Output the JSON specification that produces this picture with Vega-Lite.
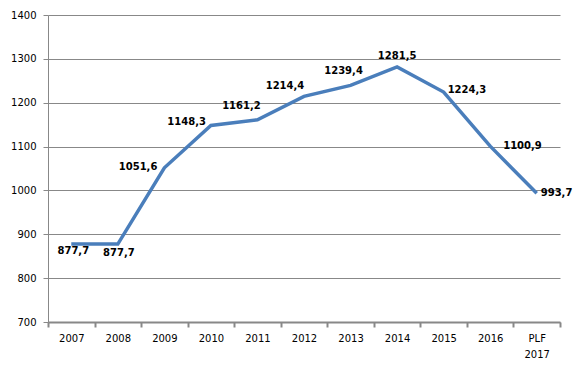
{
  "$schema": "https://vega.github.io/schema/vega-lite/v6.json",
  "autosize": "none",
  "width": 512,
  "height": 307,
  "padding": {"left": 48, "top": 15, "right": 15, "bottom": 49},
  "background": "white",
  "config": {
    "view": {"stroke": null},
    "font": "DejaVu Sans",
    "locale": {"number": {"decimal": ",", "thousands": "", "grouping": [3], "currency": ["", ""]}},
    "text": {"fontSize": 10, "fontWeight": "bold", "baseline": "middle", "color": "#000"}
  },
  "data": {
    "values": [
      {"year": "2007", "value": 877.7},
      {"year": "2008", "value": 877.7},
      {"year": "2009", "value": 1051.6},
      {"year": "2010", "value": 1148.3},
      {"year": "2011", "value": 1161.2},
      {"year": "2012", "value": 1214.4},
      {"year": "2013", "value": 1239.4},
      {"year": "2014", "value": 1281.5},
      {"year": "2015", "value": 1224.3},
      {"year": "2016", "value": 1100.9},
      {"year": "PLF 2017", "value": 993.7}
    ]
  },
  "encoding": {
    "x": {
      "field": "year", "type": "nominal", "sort": null,
      "scale": {"paddingInner": 0, "paddingOuter": 0},
      "axis": {
        "title": null, "labelAngle": 0, "labelFontSize": 10, "labelColor": "#000",
        "labelExpr": "split(datum.label, ' ')", "labelLineHeight": 16,
        "domainColor": "#888", "domainWidth": 2, "tickColor": "#888", "tickSize": 5, "tickWidth": 2,
        "tickBand": "extent", "labelPadding": 6, "grid": false
      }
    },
    "y": {
      "field": "value", "type": "quantitative",
      "scale": {"domain": [700, 1400], "nice": false},
      "axis": {
        "title": null, "values": [700, 800, 900, 1000, 1100, 1200, 1300, 1400], "format": "d",
        "labelFontSize": 10, "labelColor": "#000", "labelPadding": 7,
        "domainColor": "#888", "tickColor": "#888", "tickSize": 5,
        "grid": true, "gridColor": "#888", "gridWidth": 1
      }
    }
  },
  "layer": [
    {"mark": {"type": "line", "color": "#4A7EBB", "strokeWidth": 3.5}},
    {
      "transform": [{"filter": "datum.year == '2007'"}],
      "mark": {"type": "text", "dx": 2, "dy": 7},
      "encoding": {"text": {"field": "value", "type": "quantitative", "format": ".1f"}}
    },
    {
      "transform": [{"filter": "datum.year == '2008'"}],
      "mark": {"type": "text", "dx": 1, "dy": 9},
      "encoding": {"text": {"field": "value", "type": "quantitative", "format": ".1f"}}
    },
    {
      "transform": [{"filter": "datum.year == '2009'"}],
      "mark": {"type": "text", "align": "right", "dx": -7, "dy": -1},
      "encoding": {"text": {"field": "value", "type": "quantitative", "format": ".1f"}}
    },
    {
      "transform": [{"filter": "datum.year == '2010'"}],
      "mark": {"type": "text", "align": "right", "dx": -5, "dy": -3},
      "encoding": {"text": {"field": "value", "type": "quantitative", "format": ".1f"}}
    },
    {
      "transform": [{"filter": "datum.year == '2011'"}],
      "mark": {"type": "text", "dx": -16, "dy": -14},
      "encoding": {"text": {"field": "value", "type": "quantitative", "format": ".1f"}}
    },
    {
      "transform": [{"filter": "datum.year == '2012'"}],
      "mark": {"type": "text", "dx": -19, "dy": -10},
      "encoding": {"text": {"field": "value", "type": "quantitative", "format": ".1f"}}
    },
    {
      "transform": [{"filter": "datum.year == '2013'"}],
      "mark": {"type": "text", "dx": -7, "dy": -14},
      "encoding": {"text": {"field": "value", "type": "quantitative", "format": ".1f"}}
    },
    {
      "transform": [{"filter": "datum.year == '2014'"}],
      "mark": {"type": "text", "dx": 0, "dy": -11},
      "encoding": {"text": {"field": "value", "type": "quantitative", "format": ".1f"}}
    },
    {
      "transform": [{"filter": "datum.year == '2015'"}],
      "mark": {"type": "text", "align": "left", "dx": 4, "dy": -2},
      "encoding": {"text": {"field": "value", "type": "quantitative", "format": ".1f"}}
    },
    {
      "transform": [{"filter": "datum.year == '2016'"}],
      "mark": {"type": "text", "align": "left", "dx": 13, "dy": 0},
      "encoding": {"text": {"field": "value", "type": "quantitative", "format": ".1f"}}
    },
    {
      "transform": [{"filter": "datum.year == 'PLF 2017'"}],
      "mark": {"type": "text", "align": "left", "dx": 4, "dy": 0},
      "encoding": {"text": {"field": "value", "type": "quantitative", "format": ".1f"}}
    }
  ]
}
